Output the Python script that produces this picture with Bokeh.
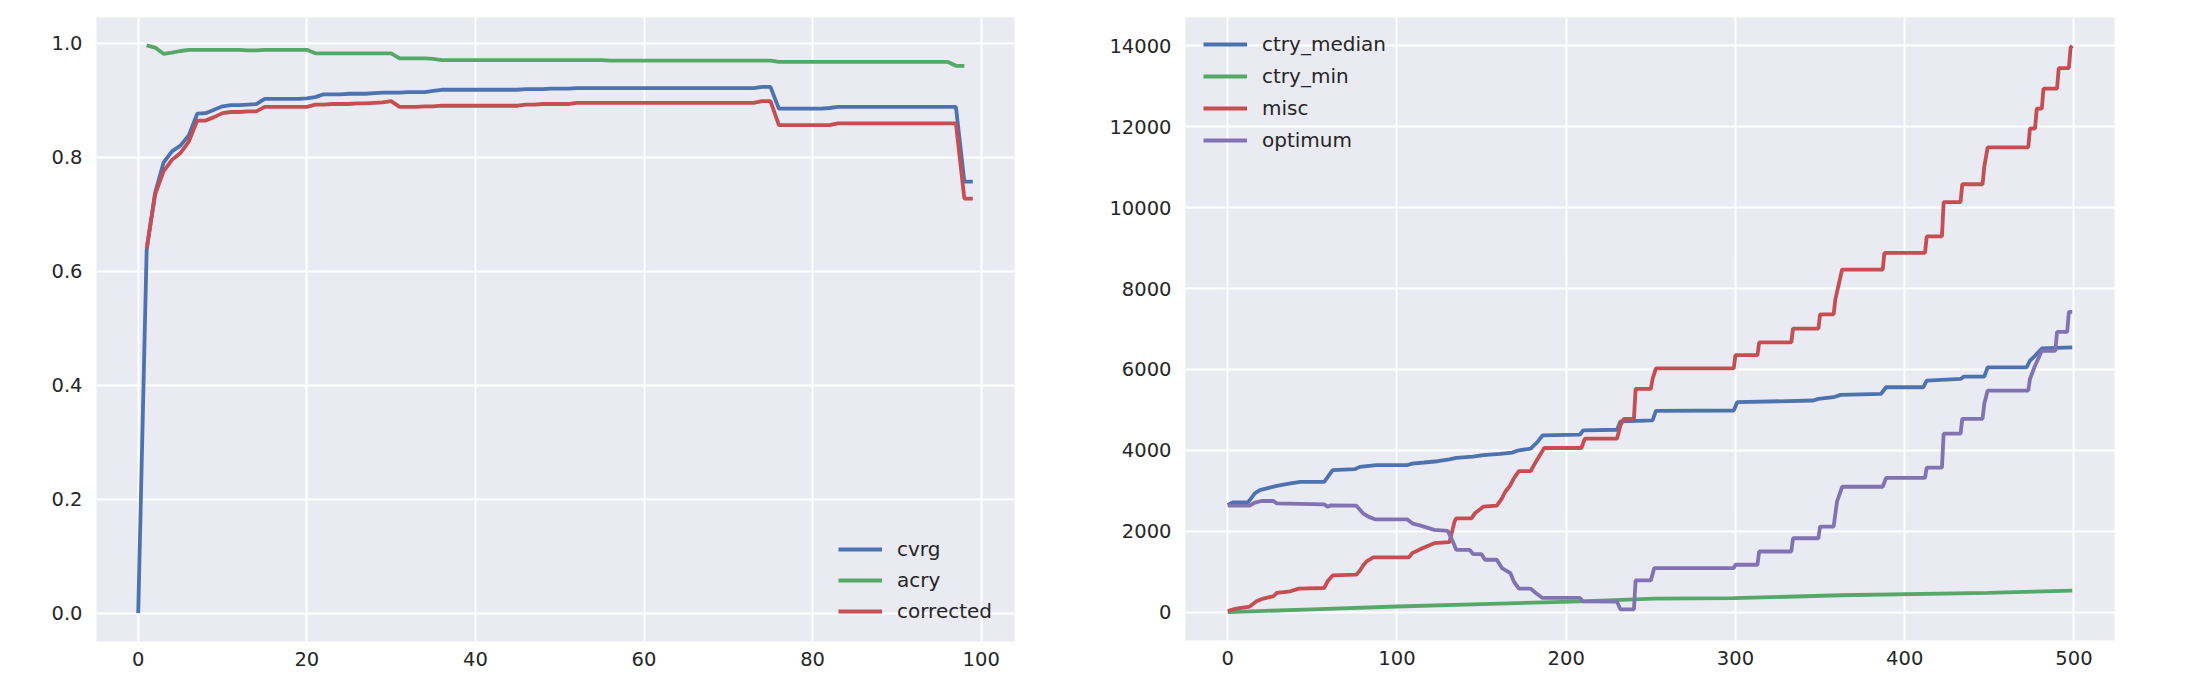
from bokeh.plotting import figure
from bokeh.layouts import row
from bokeh.models import Range1d, FixedTicker, PrintfTickFormatter, Legend, LegendItem
from bokeh.embed import file_html
from bokeh.resources import INLINE

# ---------------- left chart data ----------------
cvrg_x = list(range(0, 100))
cvrg = [0.0, 0.637, 0.737, 0.790, 0.810, 0.820, 0.838, 0.876, 0.877, 0.883,
        0.889, 0.891, 0.891, 0.892, 0.893, 0.902, 0.902, 0.902, 0.902, 0.902,
        0.903, 0.905, 0.910, 0.910, 0.910, 0.911, 0.911, 0.911, 0.912, 0.913,
        0.913, 0.913, 0.914, 0.914, 0.914, 0.916, 0.918, 0.918, 0.918, 0.918,
        0.918, 0.918, 0.918, 0.918, 0.918, 0.918, 0.919, 0.919, 0.919, 0.920,
        0.920, 0.920, 0.921, 0.921, 0.921, 0.921, 0.921, 0.921, 0.921, 0.921,
        0.921, 0.921, 0.921, 0.921, 0.921, 0.921, 0.921, 0.921, 0.921, 0.921,
        0.921, 0.921, 0.921, 0.921, 0.923, 0.923, 0.885, 0.885, 0.885, 0.885,
        0.885, 0.885, 0.886, 0.888, 0.888, 0.888, 0.888, 0.888, 0.888, 0.888,
        0.888, 0.888, 0.888, 0.888, 0.888, 0.888, 0.888, 0.888, 0.757, 0.757]

acry_x = list(range(1, 100))
acry = [0.996, 0.992, 0.981, 0.983, 0.986, 0.988, 0.988, 0.988, 0.988,
        0.988, 0.988, 0.988, 0.987, 0.987, 0.988, 0.988, 0.988, 0.988, 0.988,
        0.988, 0.982, 0.982, 0.982, 0.982, 0.982, 0.982, 0.982, 0.982, 0.982,
        0.982, 0.973, 0.973, 0.973, 0.973, 0.972, 0.970, 0.970, 0.970, 0.970,
        0.970, 0.970, 0.970, 0.970, 0.970, 0.970, 0.970, 0.970, 0.970, 0.970,
        0.970, 0.970, 0.970, 0.970, 0.970, 0.970, 0.969, 0.969, 0.969, 0.969,
        0.969, 0.969, 0.969, 0.969, 0.969, 0.969, 0.969, 0.969, 0.969, 0.969,
        0.969, 0.969, 0.969, 0.969, 0.969, 0.969, 0.967, 0.967, 0.967, 0.967,
        0.967, 0.967, 0.967, 0.967, 0.967, 0.967, 0.967, 0.967, 0.967, 0.967,
        0.967, 0.967, 0.967, 0.967, 0.967, 0.967, 0.967, 0.960, 0.960]

corr_x = list(range(1, 100))
corrected = [0.640, 0.734, 0.775, 0.795, 0.807, 0.827, 0.864, 0.864, 0.870,
             0.877, 0.879, 0.879, 0.880, 0.880, 0.888, 0.888, 0.888, 0.888, 0.888,
             0.888, 0.892, 0.892, 0.893, 0.893, 0.893, 0.894, 0.894, 0.895, 0.896,
             0.898, 0.888, 0.888, 0.888, 0.889, 0.889, 0.890, 0.890, 0.890, 0.890,
             0.890, 0.890, 0.890, 0.890, 0.890, 0.890, 0.892, 0.892, 0.893, 0.893,
             0.893, 0.893, 0.895, 0.895, 0.895, 0.895, 0.895, 0.895, 0.895, 0.895,
             0.895, 0.895, 0.895, 0.895, 0.895, 0.895, 0.895, 0.895, 0.895, 0.895,
             0.895, 0.895, 0.895, 0.895, 0.898, 0.898, 0.856, 0.856, 0.856, 0.856,
             0.856, 0.856, 0.856, 0.859, 0.859, 0.859, 0.859, 0.859, 0.859, 0.859,
             0.859, 0.859, 0.859, 0.859, 0.859, 0.859, 0.859, 0.859, 0.727, 0.727]

left_xticks = [0, 20, 40, 60, 80, 100]
left_yticks = [0.0, 0.2, 0.4, 0.6, 0.8, 1.0]

# ---------------- right chart data (corner points) ----------------
median_x = [0, 3, 12, 13, 16, 19, 23, 29, 37, 43, 57, 62, 75, 78, 88, 106, 109, 116,
            124, 131, 135, 145, 151, 161, 168, 172, 179, 183, 186, 208, 210, 230,
            232, 251, 253, 299, 301, 346, 349, 358, 362, 386, 389, 411, 413, 433,
            435, 447, 449, 472, 474, 477, 481, 499]
median_y = [2650, 2713, 2713, 2772, 2935, 3018, 3059, 3124, 3181, 3223, 3223, 3510,
            3534, 3592, 3633, 3633, 3674, 3700, 3731, 3780, 3813, 3846, 3880, 3911,
            3944, 4002, 4043, 4207, 4371, 4387, 4494, 4510, 4715, 4740, 4975, 4986,
            5191, 5232, 5273, 5314, 5371, 5396, 5560, 5560, 5724, 5765, 5822, 5822,
            6052, 6052, 6216, 6339, 6519, 6544]

min_x = [0, 50, 100, 150, 209, 252, 299, 362, 449, 499]
min_y = [0, 70, 140, 200, 265, 337, 345, 418, 475, 534]

misc_x = [0, 5, 13, 17, 21, 27, 29, 37, 42, 57, 59, 62, 76, 78, 80, 82, 86, 107,
          109, 115, 122, 131, 134, 135, 144, 146, 151, 159, 162, 164, 167, 169,
          172, 179, 182, 185, 187, 209, 211, 230, 232, 234, 240, 241, 250, 251,
          253, 299, 300, 313, 314, 333, 334, 349, 350, 358, 359, 361, 363, 387,
          388, 412, 413, 422, 423, 433, 434, 446, 447, 449, 473, 474, 477, 478,
          481, 482, 490, 491, 497, 498, 499]
misc_y = [30, 90, 140, 270, 337, 394, 475, 517, 583, 598, 763, 910, 927, 1026, 1156,
          1255, 1353, 1353, 1460, 1582, 1705, 1730, 2239, 2320, 2320, 2443, 2608,
          2633, 2812, 2977, 3141, 3305, 3486, 3486, 3715, 3920, 4059, 4059, 4288,
          4288, 4617, 4780, 4780, 5518, 5518, 5765, 6027, 6027, 6355, 6355, 6667,
          6667, 7011, 7011, 7363, 7363, 7732, 8101, 8470, 8470, 8881, 8881, 9291,
          9291, 10135, 10135, 10578, 10578, 11015, 11489, 11489, 11956, 11956,
          12448, 12448, 12940, 12940, 13449, 13449, 13950, 14000]

opt_x = [0, 13, 16, 20, 27, 29, 57, 59, 61, 76, 80, 83, 87, 106, 109, 114, 122, 130,
         133, 135, 143, 145, 150, 152, 159, 162, 167, 169, 172, 179, 182, 186, 208,
         210, 230, 232, 240, 241, 250, 252, 299, 300, 313, 314, 333, 334, 349, 350,
         358, 360, 363, 387, 389, 412, 413, 422, 423, 433, 434, 446, 447, 449, 473,
         474, 477, 481, 489, 490, 496, 497, 499]
opt_y = [2632, 2632, 2706, 2748, 2748, 2689, 2665, 2608, 2640, 2632, 2443, 2362,
         2296, 2296, 2197, 2140, 2034, 2010, 1747, 1542, 1542, 1434, 1434, 1296,
         1296, 1090, 967, 763, 583, 583, 475, 352, 352, 265, 260, 70, 70, 785, 785,
         1090, 1090, 1173, 1173, 1500, 1500, 1828, 1828, 2116, 2116, 2731, 3100,
         3100, 3321, 3321, 3575, 3575, 4412, 4412, 4780, 4780, 5150, 5478, 5478,
         5765, 6093, 6462, 6462, 6930, 6930, 7422, 7422]

right_xticks = [0, 100, 200, 300, 400, 500]
right_yticks = [0, 2000, 4000, 6000, 8000, 10000, 12000, 14000]

BLUE, GREEN, RED, PURPLE = "#4C72B0", "#55A868", "#C44E52", "#8172B2"
BG = "#EAEAF2"
TXT = "#262626"
FONT = "DejaVu Sans"
LW = 3.8


def style(p, xticks, yticks, yfmt=None):
    p.background_fill_color = BG
    p.border_fill_color = "white"
    p.outline_line_color = None
    for ax in (p.xaxis[0], p.yaxis[0]):
        ax.axis_line_color = None
        ax.major_tick_line_color = None
        ax.minor_tick_line_color = None
        ax.major_tick_out = 0
        ax.major_tick_in = 0
        ax.minor_tick_out = 0
        ax.minor_tick_in = 0
        ax.major_label_text_font = FONT
        ax.major_label_text_font_size = "19.5px"
        ax.major_label_text_color = TXT
    p.xaxis[0].ticker = FixedTicker(ticks=xticks)
    p.yaxis[0].ticker = FixedTicker(ticks=yticks)
    p.xaxis[0].major_label_standoff = 10
    p.yaxis[0].major_label_standoff = 14
    if yfmt:
        p.yaxis[0].formatter = PrintfTickFormatter(format=yfmt)
    for g in (p.xgrid[0], p.ygrid[0]):
        g.grid_line_color = "white"
        g.grid_line_width = 2
        g.minor_grid_line_color = None


def make_legend(items, loc, spacing):
    lg = Legend(items=items, location=loc)
    lg.background_fill_alpha = 0
    lg.border_line_color = None
    lg.padding = 0
    lg.margin = 0
    lg.spacing = spacing
    lg.glyph_width = 44
    lg.glyph_height = 24
    lg.label_height = 24
    lg.label_standoff = 15
    lg.label_text_font = FONT
    lg.label_text_font_size = "20px"
    lg.label_text_color = TXT
    return lg


# ---------------- left figure ----------------
p1 = figure(frame_width=918, frame_height=624, min_border_left=96, min_border_right=84,
            min_border_top=17, min_border_bottom=41,
            x_range=Range1d(-4.95, 103.95), y_range=Range1d(-0.04975, 1.04475),
            output_backend="svg", toolbar_location=None)
style(p1, left_xticks, left_yticks, "%.1f")
r1 = p1.line(cvrg_x, cvrg, line_color=BLUE, line_width=LW)
r2 = p1.line(acry_x, acry, line_color=GREEN, line_width=LW)
r3 = p1.line(corr_x, corrected, line_color=RED, line_width=LW)
lg1 = make_legend([LegendItem(label="cvrg", renderers=[r1]),
                   LegendItem(label="acry", renderers=[r2]),
                   LegendItem(label="corrected", renderers=[r3])], (742, 18), 7)
p1.add_layout(lg1, "center")

# ---------------- right figure ----------------
p2 = figure(frame_width=929, frame_height=623, min_border_left=87, min_border_right=78,
            min_border_top=16, min_border_bottom=43,
            x_range=Range1d(-24.95, 523.95), y_range=Range1d(-700, 14700),
            output_backend="svg", toolbar_location=None)
style(p2, right_xticks, right_yticks)
q1 = p2.line(median_x, median_y, line_color=BLUE, line_width=LW)
q2 = p2.line(min_x, min_y, line_color=GREEN, line_width=LW)
q3 = p2.line(misc_x, misc_y, line_color=RED, line_width=LW)
q4 = p2.line(opt_x, opt_y, line_color=PURPLE, line_width=LW)
lg2 = make_legend([LegendItem(label="ctry_median", renderers=[q1]),
                   LegendItem(label="ctry_min", renderers=[q2]),
                   LegendItem(label="misc", renderers=[q3]),
                   LegendItem(label="optimum", renderers=[q4])], (18, 488), 8)
p2.add_layout(lg2, "center")

layout = row(p1, p2)
open("out.html", "w").write(file_html(layout, INLINE))
